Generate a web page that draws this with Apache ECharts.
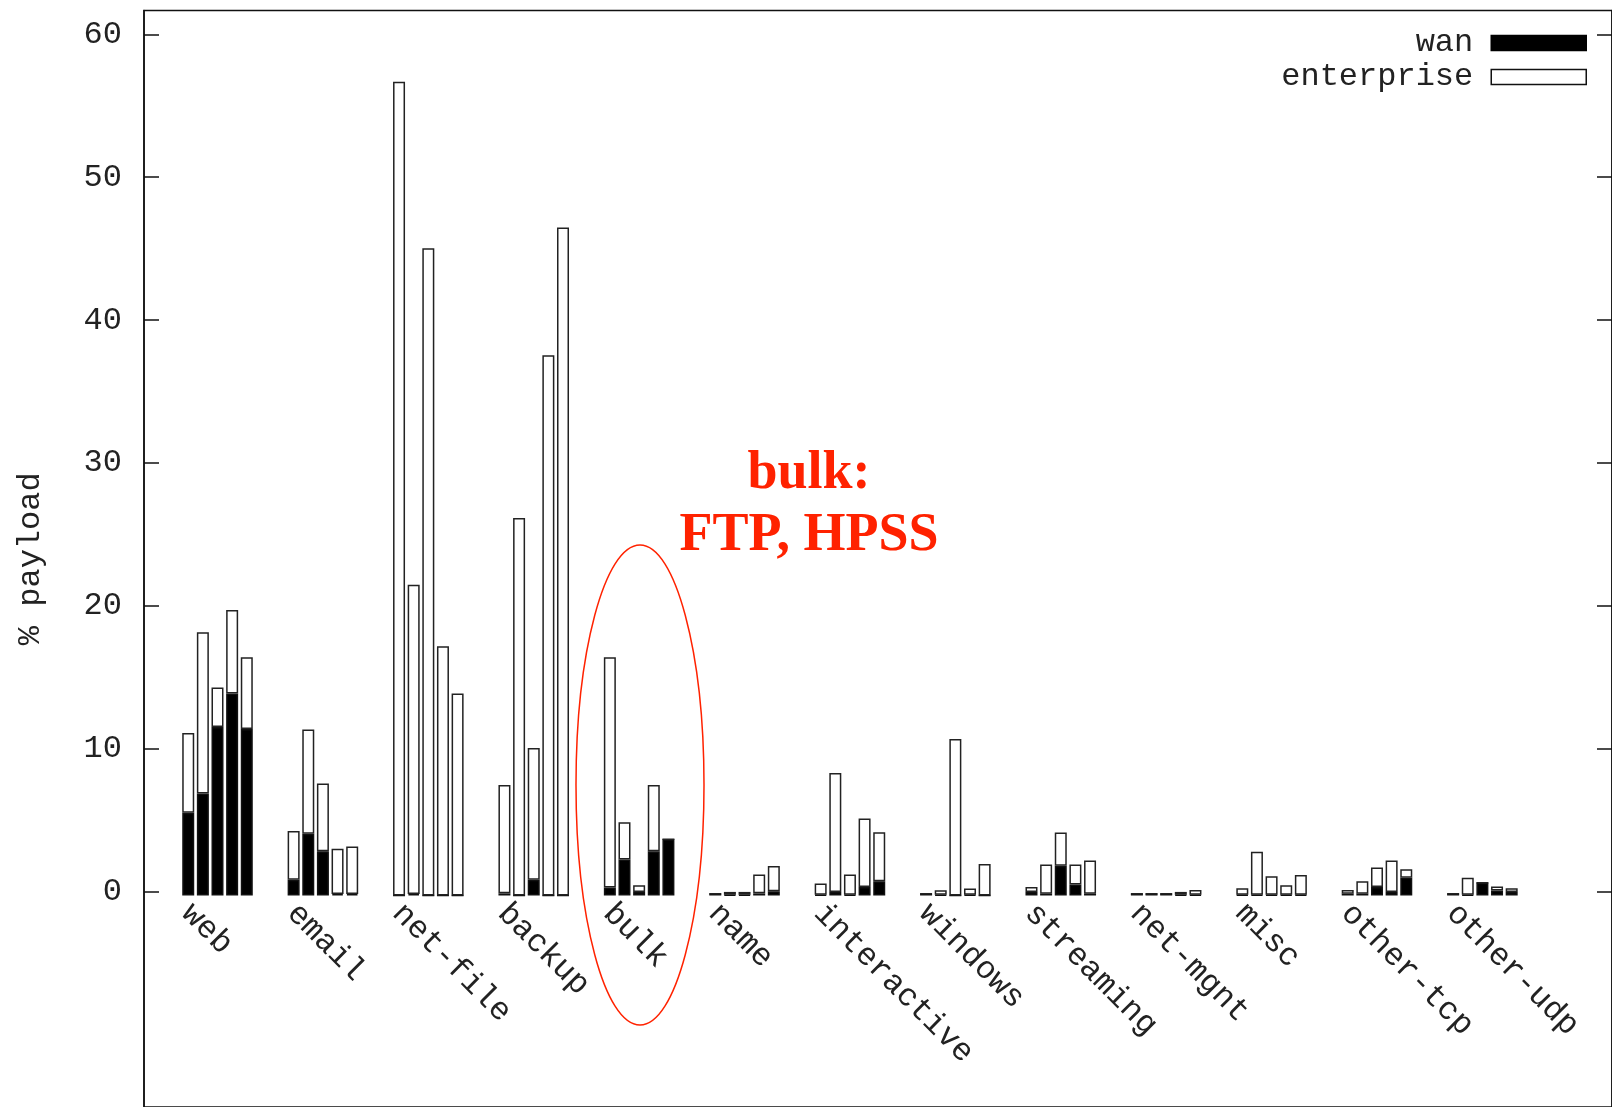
<!DOCTYPE html>
<html>
<head>
<meta charset="utf-8">
<script src="https://cdn.jsdelivr.net/npm/echarts@6/dist/echarts.min.js"></script>
<style>
  html, body { margin: 0; padding: 0; background: #fff; }
  #chart { width: 1612px; height: 1107px; }
</style>
</head>
<body>
<div id="chart"></div>
<script>
const categories = ["web", "email", "net-file", "backup", "bulk", "name", "interactive",
  "windows", "streaming", "net-mgnt", "misc", "other-tcp", "other-udp"];

// one row per category, five bars each (bottom part of stack)
const wan = [
  [5.76, 7.1, 11.75, 14.07, 11.6],
  [1.1, 4.3, 3.09, 0.1, 0.1],
  [0, 0.1, 0, 0, 0],
  [0.15, 0, 1.1, 0, 0],
  [0.55, 2.5, 0.25, 3.08, 3.92],
  [0.13, 0.05, 0.05, 0.15, 0.3],
  [0.05, 0.25, 0.05, 0.6, 1.0],
  [0.13, 0.05, 0, 0.05, 0],
  [0.25, 0.13, 2.07, 0.77, 0.13],
  [0.13, 0.13, 0.13, 0.05, 0.05],
  [0.05, 0.05, 0.05, 0.05, 0.05],
  [0.13, 0.13, 0.6, 0.25, 1.23],
  [0.13, 0.05, 0.88, 0.35, 0.25]
];
// top part of stack
const enterprise = [
  [5.57, 11.25, 2.75, 5.83, 5.0],
  [3.4, 7.27, 4.71, 3.15, 3.31],
  [56.7, 21.55, 45.1, 17.37, 14.08],
  [7.55, 26.3, 9.18, 37.65, 46.55],
  [16.05, 2.6, 0.47, 4.62, 0],
  [0, 0.2, 0.2, 1.31, 1.76],
  [0.79, 8.29, 1.41, 4.77, 3.4],
  [0, 0.32, 10.9, 0.44, 2.2],
  [0.35, 2.03, 2.32, 1.39, 2.31],
  [0, 0, 0, 0.2, 0.34],
  [0.45, 2.99, 1.3, 0.67, 1.38],
  [0.26, 0.87, 1.35, 2.19, 0.6],
  [0, 1.18, 0, 0.28, 0.26]
];
const yTicks = [0, 10, 20, 30, 40, 50, 60];
const yMax = 61.67;

const mono = "Liberation Mono";
const chart = echarts.init(document.getElementById("chart"));

const series = [];
for (let i = 0; i < 5; i++) {
  series.push({
    name: "wan", type: "bar", stack: "s" + i, xAxisIndex: 1, yAxisIndex: 2,
    barWidth: 12, barGap: "22%",
    itemStyle: { color: "#000", borderColor: "#111", borderWidth: 1.5 },
    data: wan.map(r => r[i])
  });
  series.push({
    name: "enterprise", type: "bar", stack: "s" + i, xAxisIndex: 1, yAxisIndex: 2,
    barWidth: 12, barGap: "22%",
    itemStyle: { color: "#fff", borderColor: "#222", borderWidth: 1.5 },
    data: enterprise.map(r => r[i])
  });
}

chart.setOption({
  animation: false,
  backgroundColor: "#fff",
  grid: [
    { left: 144, right: -12, top: 10.5, bottom: -5, show: true, borderColor: "#111", borderWidth: 1.5 },
    { left: 164.8, right: 76.9, top: 10.5, bottom: 211.5 },
    { left: 164.8 - 31, right: 76.9 + 31, top: 10.5, bottom: 211.5 }
  ],
  legend: {
    orient: "vertical", right: 20, top: 22, align: "right", icon: "rect",
    itemWidth: 95, itemHeight: 15, itemGap: 2,
    textStyle: { fontFamily: mono, fontSize: 32, color: "#222", lineHeight: 20, padding: [0, 13, 0, 0] },
    data: [
      { name: "wan", itemStyle: { color: "#000", borderColor: "#000", borderWidth: 1.5 } },
      { name: "enterprise", itemStyle: { color: "#fff", borderColor: "#111", borderWidth: 1.5 } }
    ]
  },
  xAxis: [
    { gridIndex: 0, type: "value", min: 0, max: 1, show: false },
    { gridIndex: 1, type: "category", data: categories, show: false },
    {
      gridIndex: 2, type: "category", data: categories,
      axisLine: { show: false }, axisTick: { show: false },
      axisLabel: { interval: 0, rotate: -45, margin: 13, fontFamily: mono, fontSize: 32, color: "#222" }
    }
  ],
  yAxis: [
    {
      gridIndex: 0, type: "value", min: -15.09, max: yMax,
      name: "% payload", nameLocation: "middle", nameGap: 97,
      nameTextStyle: { fontFamily: mono, fontSize: 32, color: "#222" },
      axisLine: { show: true, lineStyle: { color: "#111", width: 1.5 } },
      axisTick: { show: true, inside: true, length: 15, customValues: yTicks, lineStyle: { color: "#111", width: 1.5 } },
      axisLabel: { customValues: yTicks, margin: 22, fontFamily: mono, fontSize: 32, color: "#222" },
      splitLine: { show: false }
    },
    {
      gridIndex: 0, type: "value", position: "right", min: -15.09, max: yMax,
      axisLine: { show: true, lineStyle: { color: "#111", width: 1.5 } },
      axisTick: { show: true, inside: true, length: 15, customValues: yTicks, lineStyle: { color: "#111", width: 1.5 } },
      axisLabel: { show: false },
      splitLine: { show: false }
    },
    { gridIndex: 1, type: "value", min: 0, max: yMax, show: false },
    { gridIndex: 2, type: "value", min: 0, max: yMax, show: false }
  ],
  series: series,
  graphic: [
    {
      type: "ellipse", shape: { cx: 640, cy: 785, rx: 64, ry: 240 },
      style: { fill: "none", stroke: "#ff2200", lineWidth: 1.5 }
    },
    {
      type: "text", x: 809, y: 474,
      style: { text: "bulk:", fill: "#ff2200", font: "bold 54px 'Liberation Serif'", textAlign: "center", textVerticalAlign: "middle" }
    },
    {
      type: "text", x: 809, y: 536,
      style: { text: "FTP, HPSS", fill: "#ff2200", font: "bold 54px 'Liberation Serif'", textAlign: "center", textVerticalAlign: "middle" }
    }
  ]
});
</script>
</body>
</html>
